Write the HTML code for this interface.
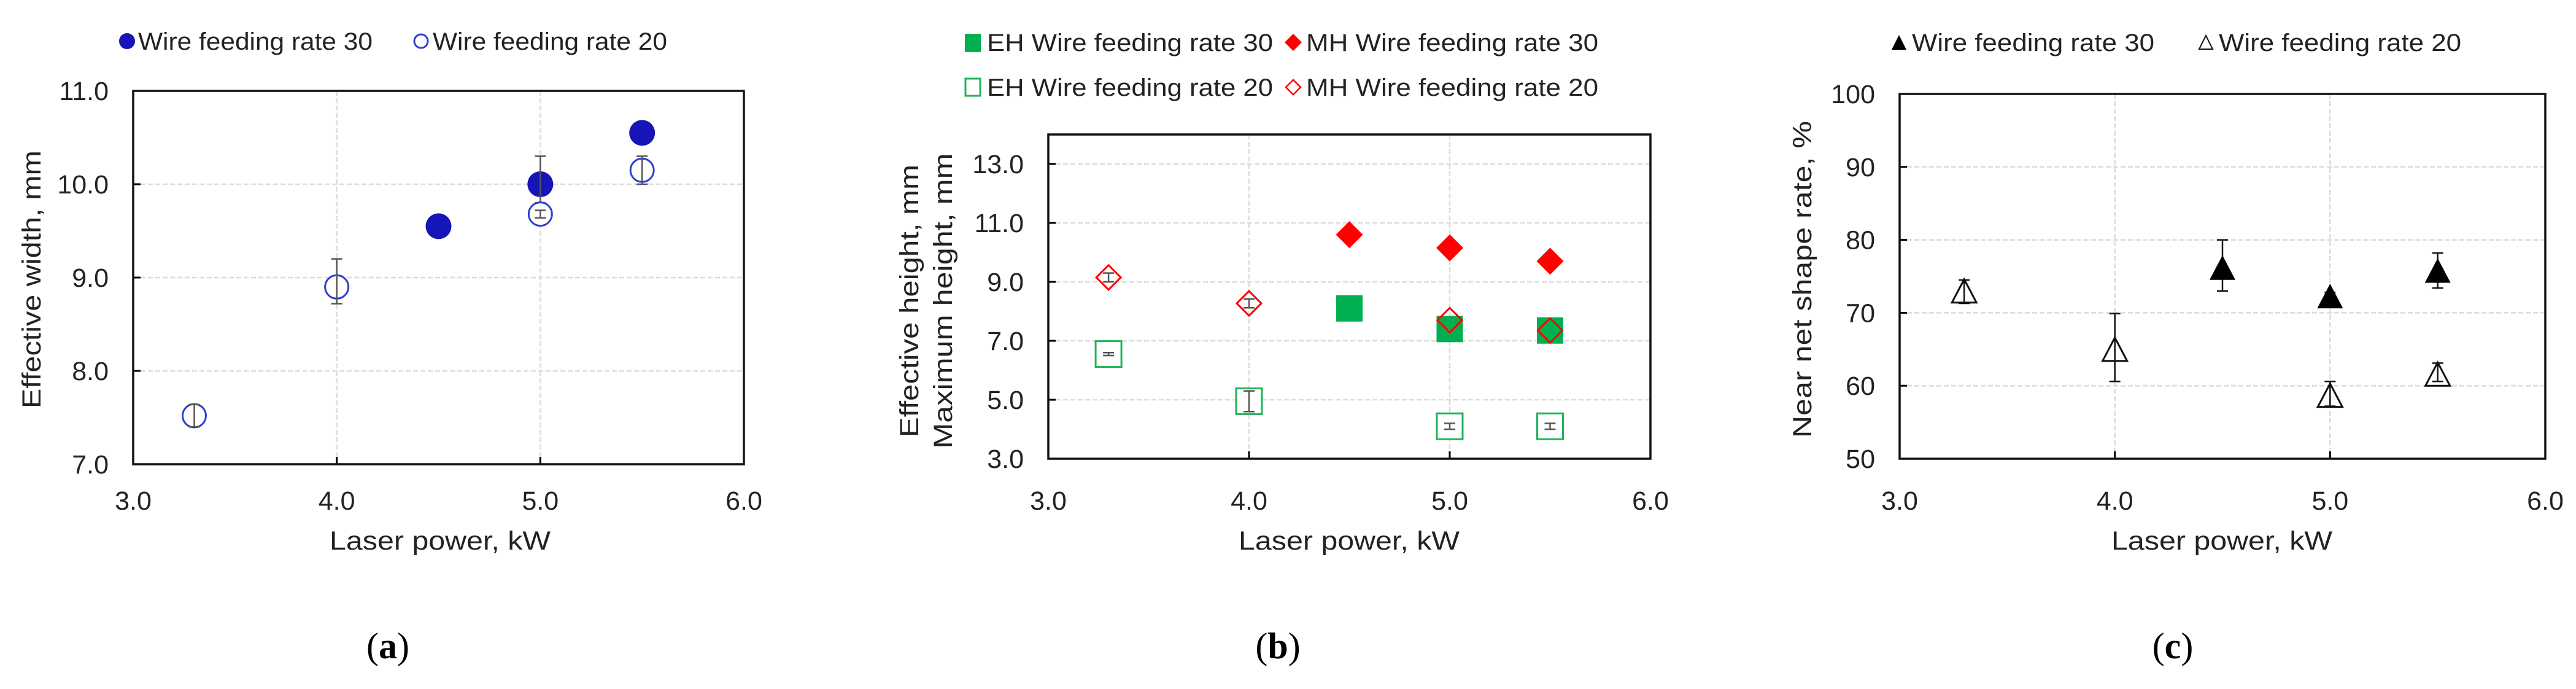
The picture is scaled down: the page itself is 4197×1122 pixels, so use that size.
<!DOCTYPE html>
<html><head><meta charset="utf-8"><style>
html,body{margin:0;padding:0;background:#fff;}
svg{display:block;font-family:"Liberation Sans",Arial,sans-serif;}
</style></head><body>
<svg id="fig" width="4197" height="1122" viewBox="0 0 4197 1122" xmlns="http://www.w3.org/2000/svg">
<rect x="0" y="0" width="4197" height="1122" fill="#fff"/>
<g id="pa"></g>
<g id="pb"></g>
<g id="pc"></g>
</svg>
<script>
// ---- shared x data ----
const xTicks = [3.0, 4.0, 5.0, 6.0];
const xTickLabels = ["3.0", "4.0", "5.0", "6.0"];
// ---- panel a ----
const aYTicks = [7, 8, 9, 10, 11];
const aYTickLabels = ["7.0", "8.0", "9.0", "10.0", "11.0"];
const aX30 = [4.5, 5.0, 5.5];
const aY30 = [9.55, 10.0, 10.55];
const aErrUp30 = [0.0, 0.3, 0.0];
const aErrDn30 = [0.0, 0.2, 0.0];
const aX20 = [3.3, 4.0, 5.0, 5.5];
const aY20 = [7.52, 8.9, 9.68, 10.15];
const aErrUp20 = [0.12, 0.3, 0.04, 0.15];
const aErrDn20 = [0.12, 0.18, 0.04, 0.15];
// ---- panel b ----
const bYTicks = [3, 5, 7, 9, 11, 13];
const bYTickLabels = ["3.0", "5.0", "7.0", "9.0", "11.0", "13.0"];
const bXEH30 = [4.5, 5.0, 5.5];
const bYEH30 = [8.1, 7.4, 7.35];
const bXMH30 = [4.5, 5.0, 5.5];
const bYMH30 = [10.6, 10.15, 9.7];
const bXEH20 = [3.3, 4.0, 5.0, 5.5];
const bYEH20 = [6.55, 4.95, 4.1, 4.1];
const bErrEH20 = [0.05, 0.35, 0.1, 0.1];
const bXMH20 = [3.3, 4.0, 5.0, 5.5];
const bYMH20 = [9.15, 8.27, 7.7, 7.35];
const bErrMH20 = [0.15, 0.15, 0.0, 0.0];
// ---- panel c ----
const cYTicks = [50, 60, 70, 80, 90, 100];
const cYTickLabels = ["50", "60", "70", "80", "90", "100"];
const cX30 = [4.5, 5.0, 5.5];
const cY30 = [76.2, 72.3, 75.8];
const cErrUp30 = [80.0, 72.8, 78.2];
const cErrDn30 = [73.0, 72.0, 73.4];
const cX20 = [3.3, 4.0, 5.0, 5.5];
const cY20 = [73.0, 65.0, 58.7, 61.6];
const cErrUp20 = [74.5, 69.9, 60.6, 63.1];
const cErrDn20 = [71.3, 60.6, 57.2, 60.6];

const NS = "http://www.w3.org/2000/svg";
function mk(parent, tag, attrs, text) {
  const e = document.createElementNS(NS, tag);
  for (const k in attrs) e.setAttribute(k, attrs[k]);
  if (text !== undefined) e.textContent = text;
  parent.appendChild(e);
  return e;
}
function makeAxes(g, cfg) {
  const sx = v => cfg.x0 + (v - 3) / 3 * (cfg.x1 - cfg.x0);
  const sy = v => cfg.yb - (v - cfg.ymin) / (cfg.ymax - cfg.ymin) * (cfg.yb - cfg.yt);
  const grid = mk(g, "g", {});
  
  
  cfg.yTicks.forEach((t, i) => {
    const y = sy(t);
    if (t !== cfg.ymin && y > cfg.yt + 2) {
      const l = mk(grid, "line", {x1: cfg.x0, x2: cfg.x1, y1: y, y2: y, stroke: "#dcdcdc", "stroke-width": 2.5, "stroke-dasharray": "8 4"});
      
      
    }
    const tk = mk(g, "line", {x1: cfg.x0, x2: cfg.x0 + 12, y1: y, y2: y, stroke: "#000", "stroke-width": 3});
    
    
    const lb = mk(g, "text", {x: cfg.x0 - 40, y: y + 15, "text-anchor": "end", "font-size": 43, fill: "#222"}, cfg.yTickLabels[i]);
    
    
  });
  xTicks.forEach((t, i) => {
    const x = sx(t);
    if (t > 3 && t < 6) {
      const l = mk(grid, "line", {x1: x, x2: x, y1: cfg.yt, y2: cfg.yb, stroke: "#dcdcdc", "stroke-width": 2.5, "stroke-dasharray": "8 4"});
      
      
    }
    const tk = mk(g, "line", {x1: x, x2: x, y1: cfg.yb, y2: cfg.yb - 12, stroke: "#000", "stroke-width": 3});
    
    
    const lb = mk(g, "text", {x: x, y: 830, "text-anchor": "middle", "font-size": 43, fill: "#222"}, xTickLabels[i]);
    
    
  });
  const fr = mk(g, "rect", {x: cfg.x0, y: cfg.yt, width: cfg.x1 - cfg.x0, height: cfg.yb - cfg.yt, fill: "none", stroke: "#111", "stroke-width": 3.5});
  
  
  const xt = mk(g, "text", {x: cfg.xtc, y: 895, "text-anchor": "middle", "font-size": 43, fill: "#222", textLength: 360, lengthAdjust: "spacingAndGlyphs"}, "Laser power, kW");
  
  
  return {sx, sy};
}
function errBar(g, x, yTop, yBot, color) {
  const e = mk(g, "g", {stroke: color, "stroke-width": 2.5});
  
  
  mk(e, "line", {x1: x, x2: x, y1: yTop, y2: yBot});
  mk(e, "line", {x1: x - 9, x2: x + 9, y1: yTop, y2: yTop});
  mk(e, "line", {x1: x - 9, x2: x + 9, y1: yBot, y2: yBot});
}
function legendText(g, x, y, str, len) {
  const t = mk(g, "text", {x: x, y: y + 14, "font-size": 40, fill: "#222", textLength: len, lengthAdjust: "spacingAndGlyphs"}, str);
  
  
}
function caption(g, cx, letter) {
  const t = mk(g, "text", {x: cx, y: 1072, "text-anchor": "middle", "font-size": 60, "font-family": "Liberation Serif, serif", fill: "#000"});
  
  
  mk(t, "tspan", {}, "(");
  mk(t, "tspan", {"font-weight": "bold"}, letter);
  mk(t, "tspan", {}, ")");
}
function diamond(g, x, y, r, attrs) {
  return mk(g, "polygon", Object.assign({points: `${x},${y - r} ${x + r},${y} ${x},${y + r} ${x - r},${y}`}, attrs));
}
function tri(g, x, y, w, h, attrs) {
  return mk(g, "polygon", Object.assign({points: `${x},${y - h / 2} ${x + w / 2},${y + h / 2} ${x - w / 2},${y + h / 2}`}, attrs));
}

// ===== Panel A =====
(function () {
  const g = document.getElementById("pa");
  const {sx, sy} = makeAxes(g, {x0: 217, x1: 1212, yt: 148, yb: 756, ymin: 7, ymax: 11, yTicks: aYTicks, yTickLabels: aYTickLabels, xtc: 717});
  const yt = mk(g, "text", {transform: "translate(66,455) rotate(-90)", "text-anchor": "middle", "font-size": 43, fill: "#222", textLength: 420, lengthAdjust: "spacingAndGlyphs"}, "Effective width, mm");
  
  
  const blue = "#1515b8";
  aX30.forEach((v, i) => {
    const m = mk(g, "circle", {cx: sx(v), cy: sy(aY30[i]), r: 21, fill: blue});
    
    
    if (aErrUp30[i] + aErrDn30[i] > 0.02) errBar(g, sx(v), sy(aY30[i] + aErrUp30[i]), sy(aY30[i] - aErrDn30[i]), "#555");
  });
  aX20.forEach((v, i) => {
    const m = mk(g, "circle", {cx: sx(v), cy: sy(aY20[i]), r: 19, fill: "#fff", stroke: "#2a3fd0", "stroke-width": 3});
    
    
    errBar(g, sx(v), sy(aY20[i] + aErrUp20[i]), sy(aY20[i] - aErrDn20[i]), "#555");
  });
  const lg = mk(g, "g", {});
  
  
  const m1 = mk(lg, "circle", {cx: 207, cy: 67, r: 13, fill: blue});
  
  
  legendText(lg, 225, 67, "Wire feeding rate 30", 382);
  const m2 = mk(lg, "circle", {cx: 686, cy: 67, r: 11, fill: "#fff", stroke: "#2a3fd0", "stroke-width": 3});
  
  
  legendText(lg, 705, 67, "Wire feeding rate 20", 382);
  caption(g, 632, "a");
})();

// ===== Panel B =====
(function () {
  const g = document.getElementById("pb");
  const {sx, sy} = makeAxes(g, {x0: 1708, x1: 2689, yt: 219, yb: 747, ymin: 3, ymax: 14, yTicks: bYTicks, yTickLabels: bYTickLabels, xtc: 2198});
  const y1 = mk(g, "text", {transform: "translate(1496,490) rotate(-90)", "text-anchor": "middle", "font-size": 43, fill: "#222", textLength: 444, lengthAdjust: "spacingAndGlyphs"}, "Effective height, mm");
  
  
  const y2 = mk(g, "text", {transform: "translate(1551,490) rotate(-90)", "text-anchor": "middle", "font-size": 43, fill: "#222", textLength: 481, lengthAdjust: "spacingAndGlyphs"}, "Maximum height, mm");
  
  
  const green = "#00b050", red = "#ff0000";
  bXEH30.forEach((v, i) => {
    const m = mk(g, "rect", {x: sx(v) - 21.5, y: sy(bYEH30[i]) - 21.5, width: 43, height: 43, fill: green});
    
    
  });
  bXEH20.forEach((v, i) => {
    const m = mk(g, "rect", {x: sx(v) - 21, y: sy(bYEH20[i]) - 21, width: 42, height: 42, fill: "#fff", stroke: "#1fb35a", "stroke-width": 3});
    
    
    errBar(g, sx(v), sy(bYEH20[i] + bErrEH20[i]), sy(bYEH20[i] - bErrEH20[i]), "#555");
  });
  bXMH30.forEach((v, i) => {
    const m = diamond(g, sx(v), sy(bYMH30[i]), 22, {fill: red});
    
    
  });
  bXMH20.forEach((v, i) => {
    const m = diamond(g, sx(v), sy(bYMH20[i]), 20, {fill: "none", stroke: red, "stroke-width": 3});
    
    
    if (bErrMH20[i] > 0.01) errBar(g, sx(v), sy(bYMH20[i] + bErrMH20[i]), sy(bYMH20[i] - bErrMH20[i]), "#555");
  });
  const lg = mk(g, "g", {});
  
  
  const l1 = mk(lg, "rect", {x: 1572, y: 55, width: 26, height: 30, fill: green});
  
  
  legendText(lg, 1608, 69, "EH Wire feeding rate 30", 466);
  const l2 = diamond(lg, 2107, 69, 14, {fill: red});
  
  
  legendText(lg, 2128, 69, "MH Wire feeding rate 30", 476);
  const l3 = mk(lg, "rect", {x: 1573, y: 128, width: 24, height: 28, fill: "#fff", stroke: "#1fb35a", "stroke-width": 3});
  
  
  legendText(lg, 1608, 142, "EH Wire feeding rate 20", 466);
  const l4 = diamond(lg, 2107, 142, 12, {fill: "#fff", stroke: red, "stroke-width": 2.5});
  
  
  legendText(lg, 2128, 142, "MH Wire feeding rate 20", 476);
  caption(g, 2082, "b");
})();

// ===== Panel C =====
(function () {
  const g = document.getElementById("pc");
  const {sx, sy} = makeAxes(g, {x0: 3095, x1: 4147, yt: 153, yb: 747, ymin: 50, ymax: 100, yTicks: cYTicks, yTickLabels: cYTickLabels, xtc: 3620});
  const yt = mk(g, "text", {transform: "translate(2951,455) rotate(-90)", "text-anchor": "middle", "font-size": 43, fill: "#222", textLength: 516, lengthAdjust: "spacingAndGlyphs"}, "Near net shape rate, %");
  
  
  cX30.forEach((v, i) => {
    errBar(g, sx(v), sy(cErrUp30[i]), sy(cErrDn30[i]), "#111");
    const m = tri(g, sx(v), sy(cY30[i]), 42, 40, {fill: "#000"});
    
    
  });
  cX20.forEach((v, i) => {
    const m = tri(g, sx(v), sy(cY20[i]), 40, 38, {fill: "#fff", stroke: "#111", "stroke-width": 3});
    
    
    errBar(g, sx(v), sy(cErrUp20[i]), sy(cErrDn20[i]), "#111");
  });
  const lg = mk(g, "g", {});
  
  
  const l1 = tri(lg, 3094, 69, 24, 24, {fill: "#000"});
  
  
  legendText(lg, 3115, 69, "Wire feeding rate 30", 395);
  const l2 = tri(lg, 3594, 69, 22, 22, {fill: "#fff", stroke: "#111", "stroke-width": 2});
  
  
  legendText(lg, 3615, 69, "Wire feeding rate 20", 395);
  caption(g, 3540, "c");
})();
</script>
</body></html>
